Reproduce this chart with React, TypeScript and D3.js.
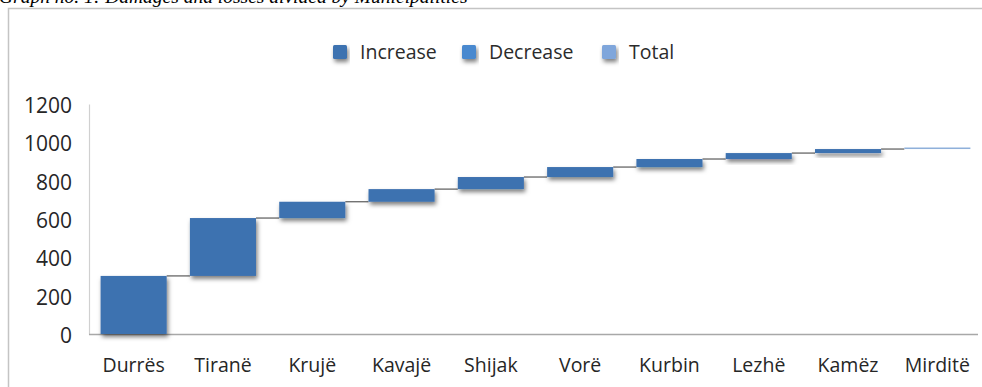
import React, { useRef, useEffect } from 'react';
import * as d3 from 'd3';

const municipalities = ['Durrës', 'Tiranë', 'Krujë', 'Kavajë', 'Shijak', 'Vorë', 'Kurbin', 'Lezhë', 'Kamëz', 'Mirditë'];
const increases = [303, 302, 85, 66, 63, 52, 42, 31, 21, 8];
const barTypes = ['increase', 'increase', 'increase', 'increase', 'increase', 'increase', 'increase', 'increase', 'increase', 'total'];
const yTicks = [0, 200, 400, 600, 800, 1000, 1200];
const legendItems = ['Increase', 'Decrease', 'Total'];
const caption = 'Graph no. 1: Damages and losses divided by Municipalities';

const WIDTH = 982;
const HEIGHT = 387;

const colors: Record<string, string> = {
    Increase: '#3e72b0',
    Decrease: '#4a89cf',
    Total: '#7fa6db',
    increase: '#3e72b0',
    total: '#8fb0da',
};

const Waterfall = () => {
    const svgRef = useRef<SVGSVGElement | null>(null);

    useEffect(() => {
        const svg = d3.select(svgRef.current);
        svg.selectAll('*').remove();
        const font = '"Open Sans", sans-serif';

        const margin = { top: 104, right: 0, bottom: 53, left: 89 };

        // running totals for the waterfall steps
        let run = 0;
        const steps = municipalities.map((name, i) => {
            const start = run;
            run += increases[i];
            return { name, start, end: run, type: barTypes[i] };
        });

        const x = d3
            .scaleBand()
            .domain(municipalities)
            .range([margin.left, WIDTH - margin.right])
            .paddingInner(0.26)
            .paddingOuter(0.13);

        const y = d3
            .scaleLinear()
            .domain([0, 1200])
            .range([HEIGHT - margin.bottom, margin.top]);

        const defs = svg.append('defs');
        const filter = defs.append('filter').attr('id', 'shadow').attr('x', '-20%').attr('y', '-50%').attr('width', '140%').attr('height', '250%');
        filter.append('feDropShadow')
            .attr('dx', 1.5)
            .attr('dy', 3)
            .attr('stdDeviation', 2)
            .attr('flood-color', '#000')
            .attr('flood-opacity', 0.5);

        svg.append('rect').attr('width', WIDTH).attr('height', HEIGHT).attr('fill', '#fff');

        // caption cut off at top of the picture
        svg.append('text')
            .attr('x', -1)
            .attr('y', 3)
            .attr('font-family', '"Liberation Serif", serif')
            .attr('font-style', 'italic')
            .attr('font-size', 19.5)
            .attr('fill', '#000')
            .text(caption);

        // chart frame
        svg.append('path')
            .attr('d', `M8.5,${HEIGHT} V8.5 H${WIDTH}`)
            .attr('fill', 'none')
            .attr('stroke', '#c4c4c4')
            .attr('stroke-width', 1.5);

        // legend
        const legendX = [333, 462, 602];
        const legend = svg.append('g').attr('transform', 'translate(0,52)');
        legendItems.forEach((item, i) => {
            legend.append('rect')
                .attr('x', legendX[i])
                .attr('y', -7)
                .attr('width', 14)
                .attr('height', 14)
                .attr('rx', 1.5)
                .attr('fill', colors[item])
                .attr('filter', 'url(#shadow)');
            legend.append('text')
                .attr('x', legendX[i] + 27)
                .attr('y', 0)
                .attr('dy', '0.35em')
                .attr('font-family', font)
                .attr('font-size', 19.5)
                .attr('fill', '#2b2b2b')
                .text(item);
        });

        // axes
        const yAxis = svg.append('g')
            .attr('transform', `translate(${margin.left},0)`)
            .call(d3.axisLeft(y).tickValues(yTicks).tickFormat(d3.format('d')).tickSize(0).tickPadding(17));
        yAxis.select('.domain').attr('stroke', '#d0d0d0').attr('stroke-width', 1.2);
        yAxis.selectAll('text')
            .attr('font-family', font)
            .attr('font-size', 21)
            .attr('fill', '#262626')
            .attr('dy', '0.4em');

        const xAxis = svg.append('g')
            .attr('transform', `translate(0,${y(0)})`)
            .call(d3.axisBottom(x).tickSize(0).tickPadding(24).tickSizeOuter(0));
        xAxis.select('.domain').attr('stroke', '#a8a8a8').attr('stroke-width', 1.5).attr('d', `M${margin.left},0.5H978`);
        xAxis.selectAll('text')
            .attr('font-family', font)
            .attr('font-size', 19.5)
            .attr('fill', '#262626');

        // connector lines
        svg.append('g')
            .selectAll('line')
            .data(steps.slice(0, -1))
            .join('line')
            .attr('x1', (d) => (x(d.name) ?? 0) + x.bandwidth())
            .attr('x2', (d, i) => x(steps[i + 1].name) ?? 0)
            .attr('y1', (d) => y(d.end))
            .attr('y2', (d) => y(d.end))
            .attr('stroke', '#5a5a5a')
            .attr('stroke-width', 1.2);

        // bars
        svg.append('g')
            .selectAll('rect')
            .data(steps)
            .join('rect')
            .attr('x', (d) => x(d.name) ?? 0)
            .attr('y', (d) => y(d.end))
            .attr('width', x.bandwidth())
            .attr('height', (d) => Math.max(y(d.start) - y(d.end), 1))
            .attr('fill', (d) => colors[d.type])
            .attr('filter', (d) => (d.type === 'total' ? null : 'url(#shadow)'));
    }, []);

    return <svg ref={svgRef} width={WIDTH} height={HEIGHT} style={{ position: 'absolute', left: 0, top: 0 }}></svg>;
};

export default function App() {
    return <Waterfall />;
}
